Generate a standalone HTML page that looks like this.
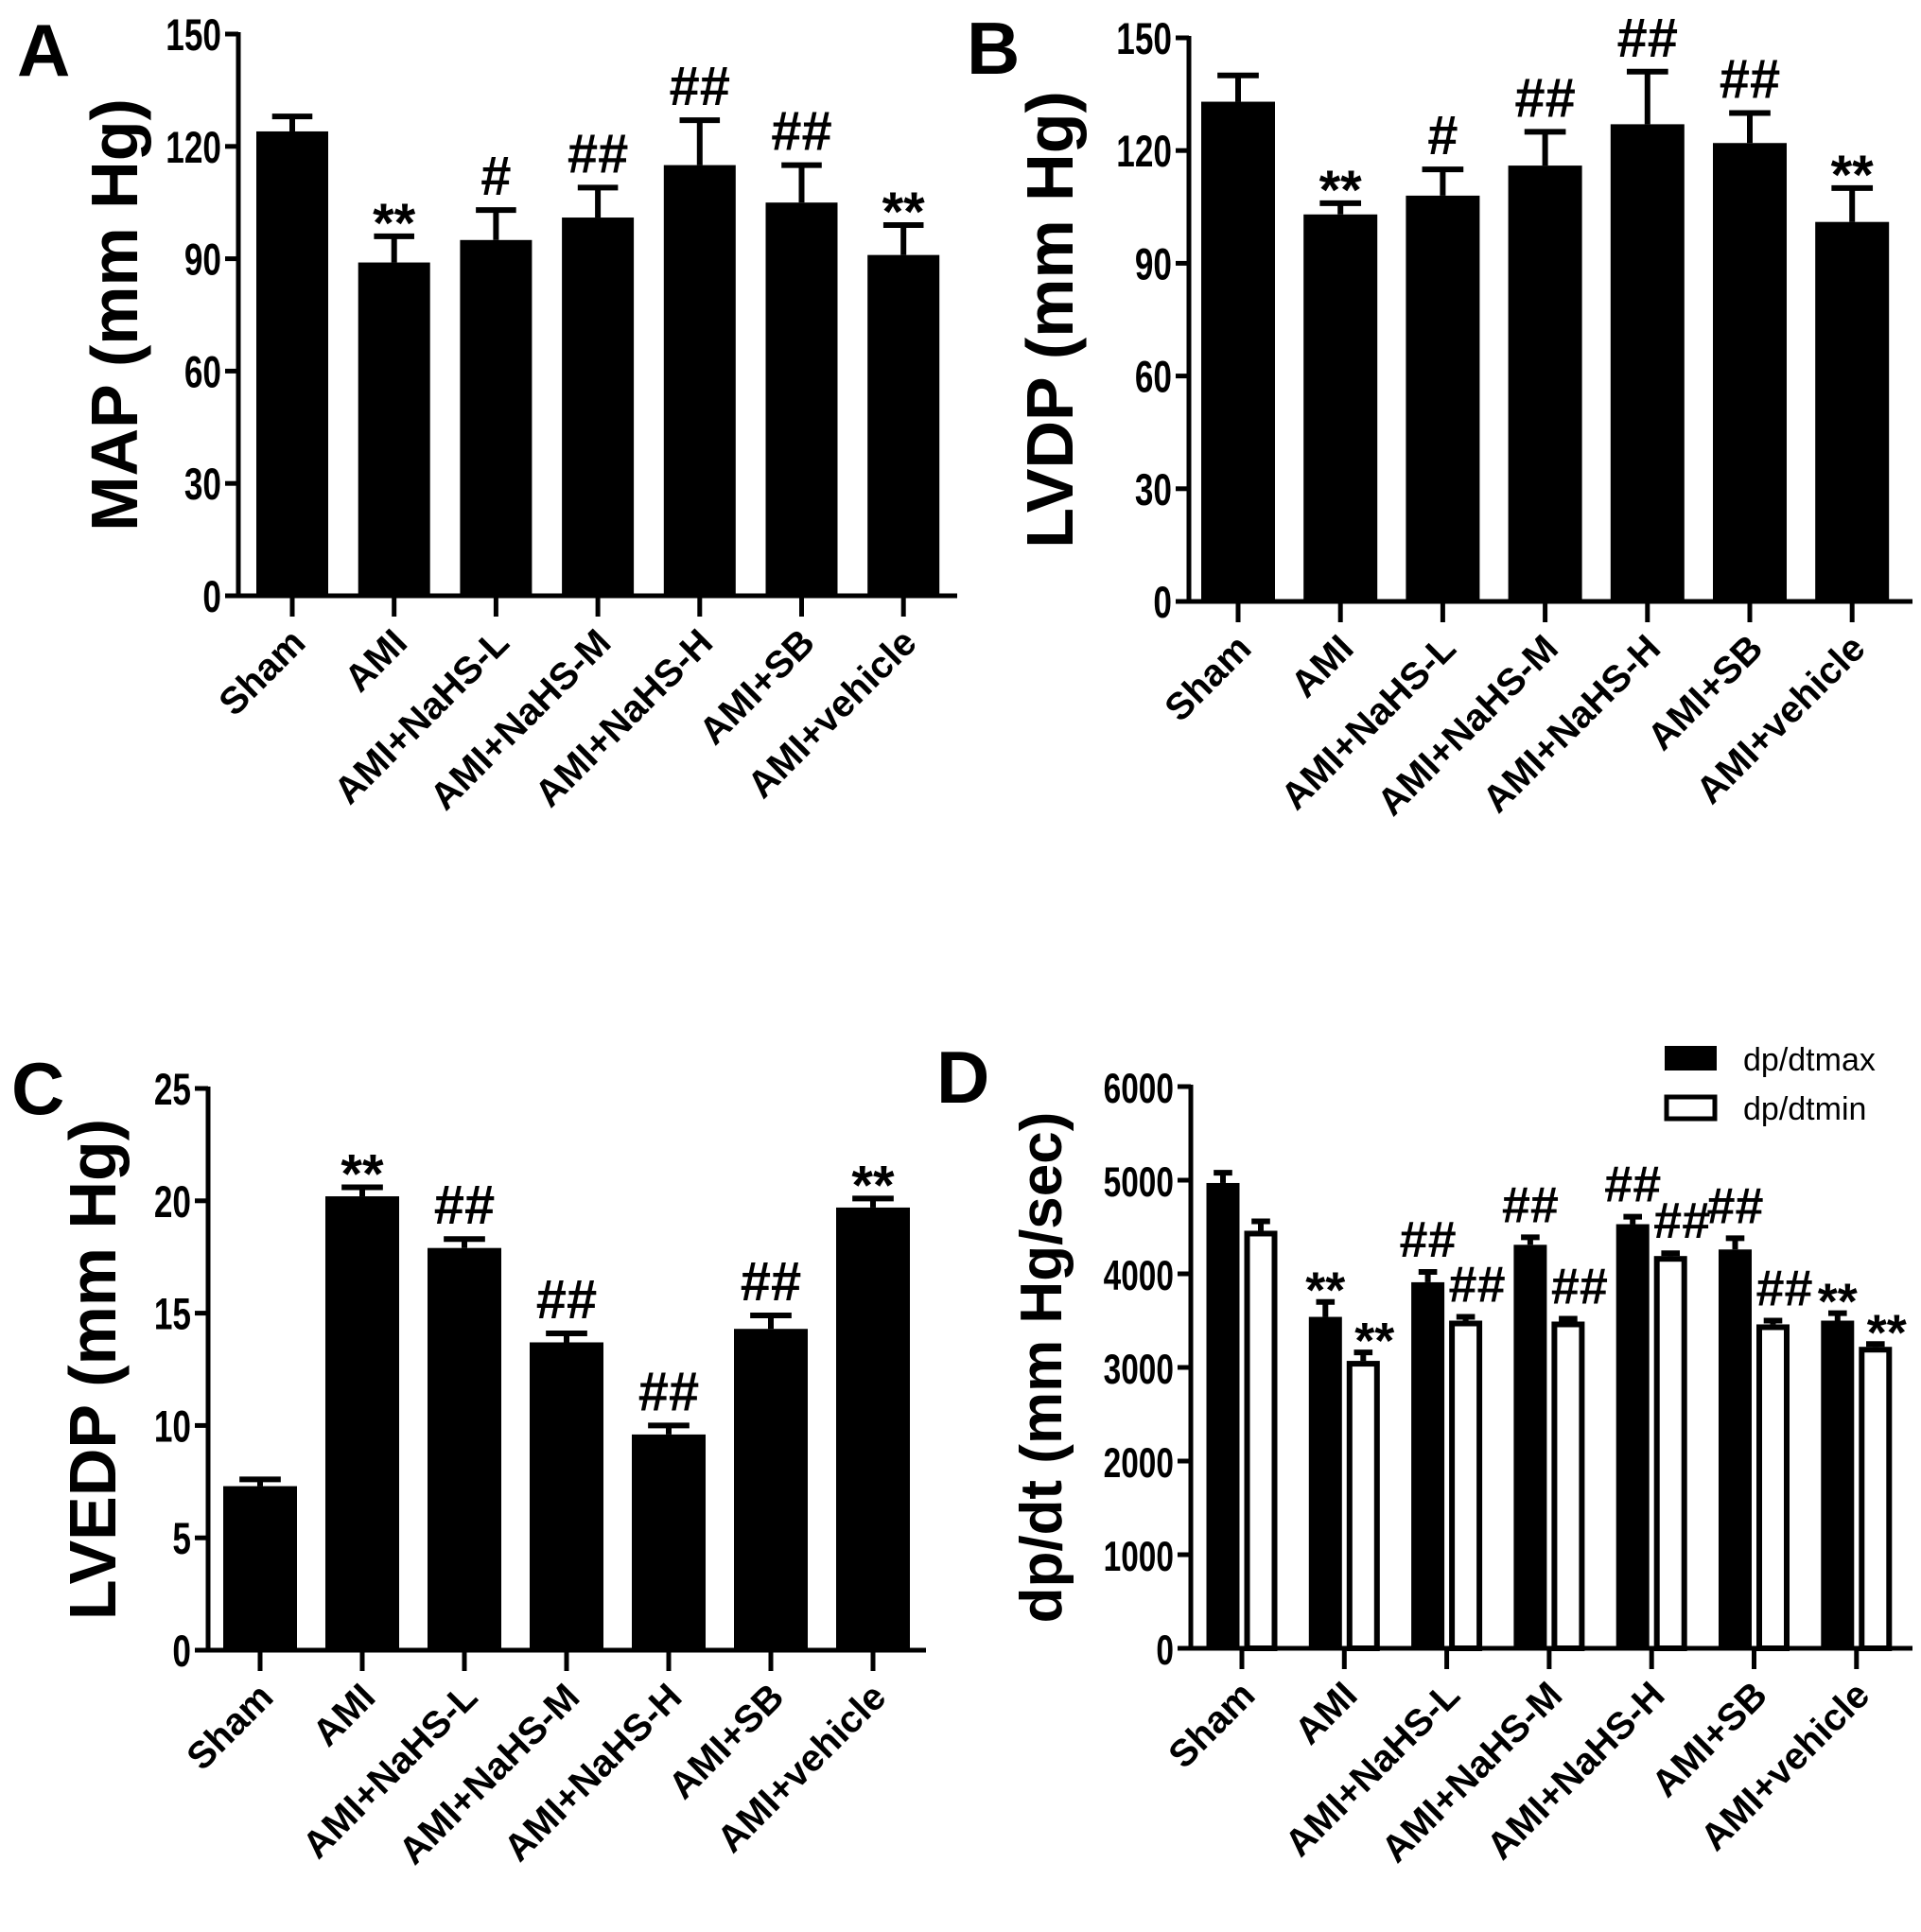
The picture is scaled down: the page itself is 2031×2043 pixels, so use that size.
<!DOCTYPE html>
<html><head><meta charset="utf-8"><style>
html,body{margin:0;padding:0;background:#fff;}
svg{display:block;font-family:"Liberation Sans",Arial,sans-serif;}
</style></head><body>
<svg id="fig" width="2031" height="2043" viewBox="0 0 2031 2043"></svg>
<script>
const categories = ["Sham","AMI","AMI+NaHS-L","AMI+NaHS-M","AMI+NaHS-H","AMI+SB","AMI+vehicle"];
const mapValues = [124,89,95,101,115,105,91];
const mapErrors = [4,7,8,8,12,10,8];
const mapMarks = ["","**","#","##","##","##","**"];
const mapTicks = [0,30,60,90,120,150];
const lvdpValues = [133,103,108,116,127,122,101];
const lvdpErrors = [7,3,7,9,14,8,9];
const lvdpMarks = ["","**","#","##","##","##","**"];
const lvdpTicks = [0,30,60,90,120,150];
const lvedpValues = [7.3,20.2,17.9,13.7,9.6,14.3,19.7];
const lvedpErrors = [0.3,0.4,0.4,0.4,0.4,0.6,0.4];
const lvedpMarks = ["","**","##","##","##","##","**"];
const lvedpTicks = [0,5,10,15,20,25];
const dpMaxValues = [4970,3540,3910,4310,4530,4260,3500];
const dpMaxErrors = [110,160,110,80,80,120,80];
const dpMinValues = [4460,3070,3500,3490,4190,3460,3220];
const dpMinErrors = [100,90,40,30,30,40,30];
const dpMaxMarks = ["","**","##","##","##","##","**"];
const dpMinMarks = ["","**","##","##","##","##","**"];
const dpTicks = [0,1000,2000,3000,4000,5000,6000];

const NS="http://www.w3.org/2000/svg";
const svg=document.getElementById('fig');
function el(tag,attrs,parent,text){const e=document.createElementNS(NS,tag);for(const k in attrs)e.setAttribute(k,attrs[k]);if(text!==undefined)e.textContent=text;(parent||svg).appendChild(e);return e;}

function panel(p){
  const g=el('g',{});
  
  
  const y=v=>p.y0-(v/p.max)*(p.y0-p.yTop);
  const x=i=>p.x0+i*p.step;
  const L=el('text',{x:p.lx,y:p.ly,'font-size':78,'font-weight':'bold'},g,p.letter);
  
  
  const ya=el('line',{x1:p.ax,y1:p.yTop-2,x2:p.ax,y2:p.y0+2,stroke:'#000','stroke-width':5},g);
  
  
  const xa=el('line',{x1:p.ax-2,y1:p.y0,x2:p.axEnd,y2:p.y0,stroke:'#000','stroke-width':5},g);
  
  
  p.ticks.forEach(t=>{
    el('line',{x1:p.ax-14,y1:y(t),x2:p.ax,y2:y(t),stroke:'#000','stroke-width':5},g);
    const tl=el('text',{x:0,y:0,'font-size':p.tickFs,'font-weight':'bold','text-anchor':'end',transform:`translate(${p.ax-18},${y(t)+17}) scale(0.88,1.18)`},g,String(t));
    
    
  });
  const yt=el('text',{x:0,y:0,'font-size':p.titleFs,'font-weight':'bold','text-anchor':'middle',transform:`translate(${p.tx},${(p.yTop+p.y0)/2}) rotate(-90)`},g,p.title);
  
  
  categories.forEach((c,i)=>{
    const cx=x(i);
    el('line',{x1:cx,y1:p.y0,x2:cx,y2:p.y0+22,stroke:'#000','stroke-width':5},g);
    const lab=el('text',{x:0,y:0,'font-size':40,'font-weight':'bold','text-anchor':'end',transform:`translate(${cx+16},${p.y0+52}) rotate(-45)`},g,c);
    
    
  });
  p.series.forEach(s=>{
    s.vals.forEach((v,i)=>{
      const cx=x(i)+s.off;
      const top=y(v+s.err[i]);
      el('line',{x1:cx,y1:y(v),x2:cx,y2:top,stroke:'#000','stroke-width':6},g);
      el('line',{x1:cx-s.w*0.28,y1:top,x2:cx+s.w*0.28,y2:top,stroke:'#000','stroke-width':6},g);
      const hol=s.fill==='#fff';
      const r=el('rect',{x:cx-s.w/2+(hol?3:0),y:y(v)+(hol?3:0),width:s.w-(hol?6:0),height:p.y0-y(v)-(hol?3:0),fill:s.fill,stroke:'#000','stroke-width':hol?6:0},g);
      
      
      if(s.marks[i]){
        const m=el('text',{x:cx+(s.markOff||0),y:top-16+(s.marks[i]==='**'?22:0),'font-size':s.markFs,'font-weight':'bold','text-anchor':'middle'},g,s.marks[i]);
        
        
      }
    });
  });
  return g;
}

panel({name:'panel-a-map',letter:'A',lx:18,ly:80,ax:252,axEnd:1012,y0:630,yTop:36,max:150,x0:309,step:107.7,ticks:mapTicks,tickFs:40,title:'MAP  (mm Hg)',titleFs:70,tx:145,
  series:[{key:'map',vals:mapValues,err:mapErrors,marks:mapMarks,off:0,w:76,fill:'#000',markFs:58}]});
panel({name:'panel-b-lvdp',letter:'B',lx:1022,ly:78,ax:1257,axEnd:2022,y0:636,yTop:40,max:150,x0:1309,step:108.2,ticks:lvdpTicks,tickFs:40,title:'LVDP  (mm Hg)',titleFs:70,tx:1134,
  series:[{key:'lvdp',vals:lvdpValues,err:lvdpErrors,marks:lvdpMarks,off:0,w:78,fill:'#000',markFs:58}]});
panel({name:'panel-c-lvedp',letter:'C',lx:12,ly:1178,ax:220,axEnd:979,y0:1745,yTop:1151,max:25,x0:275,step:108,ticks:lvedpTicks,tickFs:40,title:'LVEDP  (mm Hg)',titleFs:70,tx:122,
  series:[{key:'lvedp',vals:lvedpValues,err:lvedpErrors,marks:lvedpMarks,off:0,w:78,fill:'#000',markFs:58}]});
panel({name:'panel-d-dpdt',letter:'D',lx:990,ly:1166,ax:1259,axEnd:2022,y0:1743,yTop:1149,max:6000,x0:1313,step:108.3,ticks:dpTicks,tickFs:38,title:'dp/dt (mm Hg/sec)',titleFs:62,tx:1122,
  series:[{key:'dpmax',vals:dpMaxValues,err:dpMaxErrors,marks:dpMaxMarks,off:-20,w:35,fill:'#000',markFs:54},
          {key:'dpmin',vals:dpMinValues,err:dpMinErrors,marks:dpMinMarks,off:20,w:35,fill:'#fff',markFs:54,markOff:12}]});

const lg=el('g',{});


const l1=el('rect',{x:1760,y:1106,width:55,height:26,fill:'#000'},lg);


const l2=el('rect',{x:1762,y:1160,width:51,height:23,fill:'#fff',stroke:'#000','stroke-width':5},lg);


const t1=el('text',{x:1843,y:1132,'font-size':34},lg,'dp/dtmax');


const t2=el('text',{x:1843,y:1184,'font-size':34},lg,'dp/dtmin');


</script>
</body></html>
